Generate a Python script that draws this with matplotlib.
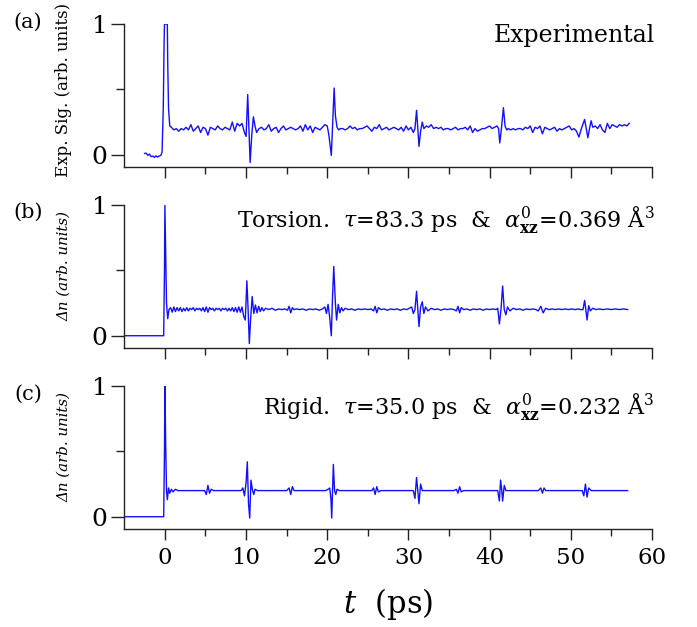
import matplotlib
matplotlib.use("Agg")
import matplotlib.pyplot as plt
from matplotlib.ticker import FixedLocator

plt.rcParams['font.family'] = ['DejaVu Serif']
plt.rcParams['mathtext.fontset'] = 'dejavuserif'

# ---------------- data ----------------
# (a) experimental signal
t_exp = [-2.5, -2.3, -2.1, -1.9, -1.7, -1.5, -1.3, -1.1, -0.9, -0.7, -0.5, -0.35,
         -0.2, -0.1, -0.05, 0.3, 0.35, 0.45, 0.6,
         0.8, 1.1, 1.4, 1.7, 2.0, 2.3, 2.6, 2.9, 3.2, 3.5, 3.8, 4.1, 4.4, 4.7, 5.0, 5.3,
         5.6, 5.9, 6.2, 6.5, 6.8, 7.1, 7.4, 7.7, 8.0, 8.3, 8.6, 8.9, 9.2, 9.5, 9.8,
         10.0, 10.2, 10.35, 10.5, 10.7, 10.9, 11.1, 11.3,
         11.6, 11.9, 12.2, 12.5, 12.8, 13.1, 13.4, 13.7, 14.0, 14.3, 14.6, 14.9, 15.2,
         15.5, 15.8, 16.1, 16.4, 16.7, 17.0, 17.3, 17.6, 17.9, 18.2, 18.5, 18.8, 19.1,
         19.4, 19.7, 20.0, 20.2,
         20.5, 20.7, 20.85, 21.0, 21.2, 21.4, 21.6,
         21.9, 22.2, 22.5, 22.8, 23.1, 23.4, 23.7, 24.0, 24.3, 24.6, 24.9, 25.2, 25.5,
         25.8, 26.1, 26.4, 26.7, 27.0, 27.3, 27.6, 27.9, 28.2, 28.5, 28.8, 29.1, 29.4,
         29.7, 30.0, 30.3, 30.6, 30.8,
         31.0, 31.15, 31.3, 31.5, 31.7, 31.9,
         32.2, 32.5, 32.8, 33.1, 33.4, 33.7, 34.0, 34.3, 34.6, 34.9, 35.2, 35.5, 35.8,
         36.1, 36.4, 36.7, 37.0, 37.3, 37.6, 37.9, 38.2, 38.5, 38.8, 39.1, 39.4, 39.7,
         40.0, 40.3, 40.6, 40.9,
         41.1, 41.25, 41.45, 41.7, 41.9, 42.1, 42.3,
         42.6, 42.9, 43.2, 43.5, 43.8, 44.1, 44.4, 44.7, 45.0, 45.3, 45.6, 45.9, 46.2,
         46.5, 46.8, 47.1, 47.4, 47.7, 48.0, 48.3, 48.6, 48.9, 49.2, 49.5, 49.8, 50.1,
         50.4, 50.7,
         51.0, 51.3, 51.7, 51.9, 52.1, 52.3, 52.5, 52.7,
         53.0, 53.3, 53.6, 53.9, 54.2, 54.5, 54.8, 55.1, 55.4, 55.7, 56.0, 56.3, 56.6,
         56.9, 57.2]
s_exp = [0.01, 0.012, -0.005, 0.005, -0.015, -0.01, -0.02, -0.008, -0.018, -0.01, -0.005, 0.02,
         0.35, 0.85, 1.0, 1.0, 0.7, 0.35, 0.22,
         0.21, 0.19, 0.2, 0.18, 0.2, 0.19, 0.21, 0.19, 0.23, 0.18, 0.2, 0.22, 0.17, 0.21, 0.2, 0.15,
         0.21, 0.2, 0.19, 0.22, 0.2, 0.19, 0.21, 0.2, 0.19, 0.25, 0.18, 0.24, 0.22, 0.24, 0.17,
         0.14, 0.46, 0.2, -0.06, 0.15, 0.29, 0.22, 0.17,
         0.2, 0.21, 0.19, 0.2, 0.23, 0.18, 0.2, 0.21, 0.17, 0.2, 0.22, 0.19, 0.2,
         0.21, 0.2, 0.19, 0.2, 0.22, 0.18, 0.23, 0.19, 0.22, 0.17, 0.21, 0.2, 0.19,
         0.21, 0.23, 0.22, 0.15,
         -0.005, 0.3, 0.51, 0.3, 0.21, 0.19, 0.2,
         0.2, 0.19, 0.2, 0.22, 0.2, 0.21, 0.19, 0.2, 0.2, 0.21, 0.22, 0.2, 0.18,
         0.21, 0.2, 0.23, 0.19, 0.2, 0.21, 0.19, 0.2, 0.21, 0.2, 0.19, 0.21, 0.18,
         0.22, 0.19, 0.21, 0.17, 0.2,
         0.34, 0.2, 0.064, 0.18, 0.25, 0.2,
         0.22, 0.21, 0.23, 0.2, 0.21, 0.2, 0.21, 0.19, 0.2, 0.2, 0.19, 0.2, 0.21,
         0.19, 0.2, 0.2, 0.21, 0.19, 0.22, 0.17, 0.2, 0.18, 0.19, 0.2, 0.2, 0.21,
         0.22, 0.2, 0.21, 0.22,
         0.2, 0.09, 0.2, 0.36, 0.22, 0.19, 0.2,
         0.19, 0.2, 0.19, 0.2, 0.2, 0.19, 0.21, 0.2, 0.22, 0.17, 0.21, 0.2, 0.22,
         0.16, 0.21, 0.2, 0.19, 0.2, 0.21, 0.18, 0.2, 0.19, 0.2, 0.21, 0.22, 0.19,
         0.2, 0.18,
         0.135, 0.2, 0.27, 0.2, 0.13, 0.2, 0.26, 0.21,
         0.22, 0.2, 0.23, 0.19, 0.17, 0.24, 0.2, 0.23, 0.22, 0.21, 0.23, 0.22, 0.23,
         0.22, 0.24]

# (b) torsion model
t_tor = [-5.0, -0.15, -0.05, 0.0, 0.1, 0.2, 0.35, 0.5, 0.7, 0.9, 1.1, 1.3, 1.5, 1.7, 1.9,
         2.1, 2.3, 2.5, 2.7, 2.9, 3.1, 3.3, 3.5, 3.7, 3.9, 4.1, 4.3, 4.5, 4.7, 4.9, 5.1,
         5.3, 5.5, 5.7, 5.9, 6.1, 6.3, 6.5, 6.7, 6.9, 7.1, 7.3, 7.5, 7.7, 7.9, 8.1, 8.3,
         8.5, 8.7, 8.9, 9.1, 9.3, 9.5, 9.7, 9.9, 10.1, 10.25, 10.4, 10.55, 10.75, 10.95,
         11.15, 11.35, 11.55, 11.75, 11.95, 12.15, 12.4, 12.8, 13.2, 13.6, 14.0, 14.4,
         14.8, 15.1, 15.3, 15.5, 15.7, 15.9, 16.2, 16.6, 17.0, 17.4, 17.8, 18.2, 18.6,
         19.0, 19.4, 19.7, 19.9, 20.1, 20.3, 20.5, 20.65, 20.8, 21.0, 21.15, 21.35,
         21.55, 21.75, 21.95, 22.2, 22.6, 23.0, 23.4, 23.8, 24.2, 24.6, 25.0, 25.4,
         25.7, 25.9, 26.1, 26.3, 26.6, 27.0, 27.4, 27.8, 28.2, 28.6, 29.0, 29.4, 29.8,
         30.1, 30.4, 30.6, 30.8, 31.0, 31.15, 31.3, 31.5, 31.7, 31.9, 32.1, 32.4, 32.8,
         33.2, 33.6, 34.0, 34.4, 34.8, 35.2, 35.6, 35.9, 36.1, 36.3, 36.5, 36.8, 37.2,
         37.6, 38.0, 38.4, 38.8, 39.2, 39.6, 40.0, 40.4, 40.8, 41.0, 41.2, 41.4, 41.6,
         41.8, 42.0, 42.2, 42.5, 42.9, 43.3, 43.7, 44.1, 44.5, 44.9, 45.3, 45.7, 46.0,
         46.3, 46.6, 46.9, 47.3, 47.7, 48.1, 48.5, 48.9, 49.3, 49.7, 50.1, 50.5, 50.9,
         51.2, 51.5, 51.7, 51.85, 52.0, 52.2, 52.4, 52.7, 53.1, 53.5, 54.0, 54.5, 55.0,
         55.5, 56.0, 56.5, 57.0]
s_tor = [0.0, 0.0, 0.5, 1.0, 0.6, 0.25, 0.13, 0.2, 0.215, 0.18, 0.22, 0.185, 0.215, 0.19, 0.215,
         0.185, 0.21, 0.19, 0.215, 0.19, 0.21, 0.2, 0.215, 0.19, 0.21, 0.2, 0.21, 0.19, 0.215, 0.185, 0.22,
         0.18, 0.215, 0.2, 0.21, 0.19, 0.21, 0.2, 0.21, 0.19, 0.21, 0.2, 0.21, 0.19, 0.21, 0.19, 0.215,
         0.185, 0.215, 0.18, 0.22, 0.18, 0.22, 0.15, 0.12, 0.42, 0.2, -0.06, 0.12, 0.3, 0.17,
         0.235, 0.175, 0.225, 0.185, 0.215, 0.19, 0.21, 0.2, 0.21, 0.195, 0.205, 0.2,
         0.205, 0.195, 0.225, 0.175, 0.215, 0.2, 0.205, 0.2, 0.205, 0.195, 0.205, 0.2, 0.205,
         0.195, 0.205, 0.22, 0.17, 0.24, 0.14, 0.0, 0.3, 0.53, 0.25, 0.12, 0.24,
         0.175, 0.215, 0.19, 0.21, 0.2, 0.205, 0.195, 0.205, 0.2, 0.205, 0.2, 0.205,
         0.19, 0.225, 0.175, 0.215, 0.2, 0.205, 0.195, 0.205, 0.2, 0.205, 0.195, 0.205, 0.2,
         0.21, 0.22, 0.17, 0.2, 0.34, 0.2, 0.07, 0.22, 0.26, 0.17, 0.22, 0.19, 0.21,
         0.2, 0.205, 0.195, 0.205, 0.2, 0.205, 0.2, 0.19, 0.225, 0.175, 0.215, 0.2, 0.205,
         0.195, 0.205, 0.2, 0.205, 0.195, 0.205, 0.2, 0.205, 0.2, 0.21, 0.09, 0.2, 0.38,
         0.2, 0.16, 0.22, 0.19, 0.21, 0.2, 0.205, 0.195, 0.205, 0.2, 0.205, 0.2, 0.19,
         0.225, 0.175, 0.21, 0.2, 0.205, 0.2, 0.205, 0.2, 0.205, 0.2, 0.205, 0.2, 0.205,
         0.2, 0.2, 0.27, 0.2, 0.12, 0.23, 0.19, 0.21, 0.2, 0.205, 0.2, 0.205, 0.2,
         0.205, 0.2, 0.205, 0.2]

# (c) rigid model
t_rig = [-5.0, -0.15, -0.05, 0.0, 0.1, 0.2, 0.3, 0.45, 0.6, 0.8, 1.0, 1.3, 1.6, 2.0, 2.5,
         3.0, 3.5, 4.0, 4.5, 4.9, 5.1, 5.3, 5.5, 5.7, 6.0, 6.5, 7.0, 7.5, 8.0, 8.5, 9.0,
         9.4, 9.6, 9.8, 10.0, 10.15, 10.3, 10.45, 10.6, 10.8, 10.95, 11.1, 11.4, 12.0,
         12.5, 13.0, 13.5, 14.0, 14.5, 15.0, 15.3, 15.5, 15.7, 15.9, 16.2, 16.8, 17.4,
         18.0, 18.6, 19.2, 19.8, 20.1, 20.3, 20.45, 20.55, 20.75, 20.9, 21.05, 21.2,
         21.5, 22.0, 22.6, 23.2, 23.8, 24.4, 25.0, 25.5, 25.7, 25.9, 26.1, 26.3, 26.6,
         27.2, 27.8, 28.4, 29.0, 29.6, 30.2, 30.6, 30.8, 31.0, 31.15, 31.3, 31.5, 31.7,
         32.0, 32.6, 33.2, 33.8, 34.4, 35.0, 35.6, 35.9, 36.1, 36.3, 36.5, 36.8, 37.4,
         38.0, 38.6, 39.2, 39.8, 40.4, 40.8, 41.0, 41.2, 41.35, 41.5, 41.6, 41.8, 42.0,
         42.4, 43.0, 43.6, 44.2, 44.8, 45.4, 46.0, 46.3, 46.5, 46.7, 46.9, 47.2, 47.8,
         48.4, 49.0, 49.6, 50.2, 50.8, 51.2, 51.4, 51.6, 51.8, 52.0, 52.2, 52.5, 53.0,
         53.6, 54.2, 54.8, 55.4, 56.0, 56.5, 57.0]
s_rig = [0.0, 0.0, 0.5, 1.0, 0.55, 0.2, 0.13, 0.22, 0.18, 0.21, 0.19, 0.21, 0.2, 0.2, 0.2,
         0.2, 0.2, 0.2, 0.2, 0.2, 0.17, 0.24, 0.18, 0.21, 0.2, 0.2, 0.2, 0.2, 0.2, 0.2, 0.2,
         0.2, 0.22, 0.16, 0.26, 0.42, 0.1, -0.01, 0.28, 0.2, 0.17, 0.21, 0.2, 0.2,
         0.2, 0.2, 0.2, 0.2, 0.2, 0.2, 0.22, 0.17, 0.23, 0.2, 0.2, 0.2, 0.2,
         0.2, 0.2, 0.2, 0.2, 0.21, 0.22, 0.14, -0.01, 0.4, 0.2, 0.17, 0.21,
         0.2, 0.2, 0.2, 0.2, 0.2, 0.2, 0.2, 0.2, 0.22, 0.17, 0.23, 0.19, 0.2,
         0.2, 0.2, 0.2, 0.2, 0.2, 0.2, 0.2, 0.14, 0.3, 0.2, 0.1, 0.25, 0.2,
         0.2, 0.2, 0.2, 0.2, 0.2, 0.2, 0.2, 0.21, 0.18, 0.23, 0.19, 0.2, 0.2,
         0.2, 0.2, 0.2, 0.2, 0.2, 0.2, 0.2, 0.12, 0.28, 0.2, 0.12, 0.24, 0.2,
         0.2, 0.2, 0.2, 0.2, 0.2, 0.2, 0.2, 0.22, 0.18, 0.22, 0.2, 0.2, 0.2,
         0.2, 0.2, 0.2, 0.2, 0.2, 0.2, 0.2, 0.16, 0.25, 0.15, 0.22, 0.2, 0.2,
         0.2, 0.2, 0.2, 0.2, 0.2, 0.2, 0.2]

x_major = [0, 10, 20, 30, 40, 50, 60]
x_minor = [5, 15, 25, 35, 45, 55]
y_major = [0, 1]
y_minor = [0.5]

panel_labels = ["(a)", "(b)", "(c)"]
y_labels = ["Exp. Sig. (arb. units)", "Δn (arb. units)", "Δn (arb. units)"]
notes = ["Experimental",
         r"Torsion.  $\tau$=83.3 ps  &  $\alpha^{0}_{\mathbf{xz}}$=0.369 Å$^3$",
         r"Rigid.  $\tau$=35.0 ps  &  $\alpha^{0}_{\mathbf{xz}}$=0.232 Å$^3$"]
series = [(t_exp, s_exp), (t_tor, s_tor), (t_rig, s_rig)]

# ---------------- figure ----------------
W, H = 697, 627
fig = plt.figure(figsize=(W / 100, H / 100), dpi=100)

left_px, right_px = 124.3, 652.0
tops = [24.0, 205.0, 386.0]
height_px = 142.5
note_y = [0.922, 0.895, 0.853]
note_size = [17, 16, 16]
ylab_y = [90, 266, 447]
plab_y = [22, 212, 394]

for i in range(3):
    top = tops[i]
    bot = top + height_px
    ax = fig.add_axes([left_px / W, 1 - bot / H, (right_px - left_px) / W, height_px / H])
    t, s = series[i]
    ax.plot(t, s, color='#1010ff', lw=1.0)
    ax.set_xlim(-5, 60)
    ax.set_ylim(-0.09, 1.0)
    for sp in ['top', 'right']:
        ax.spines[sp].set_visible(False)
    for sp in ['left', 'bottom']:
        ax.spines[sp].set_linewidth(1.0)
        ax.spines[sp].set_color('#222222')
    ax.xaxis.set_major_locator(FixedLocator(x_major))
    ax.xaxis.set_minor_locator(FixedLocator(x_minor))
    ax.yaxis.set_major_locator(FixedLocator(y_major))
    ax.yaxis.set_minor_locator(FixedLocator(y_minor))
    ax.tick_params(axis='y', which='major', direction='out', length=9.2, width=1.0,
                   labelsize=18, pad=3, color='#222222')
    ax.tick_params(axis='y', which='minor', direction='out', length=5.8, width=1.0,
                   color='#222222')
    ax.tick_params(axis='x', which='major', direction='out', length=8.2, width=1.0,
                   labelsize=16.5, pad=5, color='#222222')
    ax.tick_params(axis='x', which='minor', direction='out', length=4.8, width=1.0,
                   color='#222222')
    ax.set_yticklabels(['0', '1'])
    if i < 2:
        ax.set_xticklabels([])
    else:
        ax.set_xticklabels([str(v) for v in x_major])
        ax.set_xlabel(r"$t$  (ps)", fontsize=22, labelpad=12)
    ax.text(1.005, note_y[i], notes[i], transform=ax.transAxes, ha='right', va='center',
            fontsize=note_size[i])
    style = 'normal' if i == 0 else 'italic'
    fig.text(64 / W, 1 - ylab_y[i] / H, y_labels[i], rotation=90, ha='center', va='center',
             fontsize=12 if i == 0 else 10.8, fontstyle=style)
    fig.text(28 / W, 1 - plab_y[i] / H, panel_labels[i], ha='center', va='center', fontsize=15)

fig.savefig("out.png", dpi=100)
